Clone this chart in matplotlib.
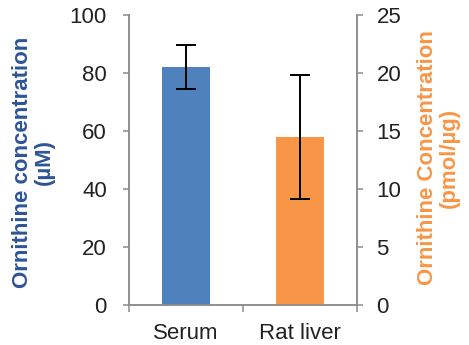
import matplotlib.pyplot as plt

plt.rcParams['font.family'] = ['Liberation Sans', 'DejaVu Sans']

categories = ['Serum', 'Rat liver']
serum_mean = 82.2      # µM, left axis
serum_err = 7.6
liver_mean = 14.5      # pmol/µg, right axis
liver_err = 5.35

blue = '#4F81BD'
orange = '#F79646'
grey = '#8C8C8C'

fig = plt.figure(figsize=(4.69, 3.45), dpi=100)
ax = fig.add_axes([129 / 469, 1 - 305 / 345, 228 / 469, 290 / 345])
ax2 = ax.twinx()

ax.bar(0, serum_mean, width=0.42, color=blue, zorder=2)
ax.errorbar(0, serum_mean, yerr=serum_err, fmt='none', ecolor='black',
            elinewidth=1.4, capsize=7.5, capthick=1.4, zorder=3)
ax2.bar(1, liver_mean, width=0.42, color=orange, zorder=2)
ax2.errorbar(1, liver_mean, yerr=liver_err, fmt='none', ecolor='black',
             elinewidth=1.4, capsize=7.5, capthick=1.4, zorder=3)

ax.set_xlim(-0.5, 1.5)
ax.set_ylim(0, 100)
ax2.set_ylim(0, 25)
ax.set_yticks(range(0, 101, 20))
ax2.set_yticks(range(0, 26, 5))

# category labels centred on bars, ticks on the category boundaries
ax.set_xticks([-0.5, 0.5, 1.5])
ax.set_xticklabels([])
ax.set_xticks([0, 1], minor=True)
ax.set_xticklabels(categories, minor=True, fontsize=16, color='#222222')
ax.tick_params(axis='x', which='minor', length=0, pad=13)
ax.tick_params(axis='x', which='major', length=5, width=1.1, color=grey)

ax.tick_params(axis='y', length=4, width=1.1, color=grey, pad=12,
               labelsize=16, labelcolor='#222222')
ax2.tick_params(axis='y', length=4, width=1.1, color=grey, pad=10,
                labelsize=16, labelcolor='#222222')

for a in (ax, ax2):
    a.spines['top'].set_visible(False)
    for s in ('left', 'right', 'bottom'):
        a.spines[s].set_color(grey)
        a.spines[s].set_linewidth(1.1)

fig.text(33.5 / 469, 1 - 162 / 345, 'Ornithine concentration\n(µM)',
         rotation=90, ha='center', va='center', fontsize=16,
         fontweight='bold', color='#2E5594', linespacing=1.05,
         multialignment='center')
fig.text(438 / 469, 1 - 158 / 345, 'Ornithine Concentration\n(pmol/µg)',
         rotation=90, ha='center', va='center', fontsize=16,
         fontweight='bold', color=orange, linespacing=1.05,
         multialignment='center')

fig.savefig('out.png', dpi=100)
